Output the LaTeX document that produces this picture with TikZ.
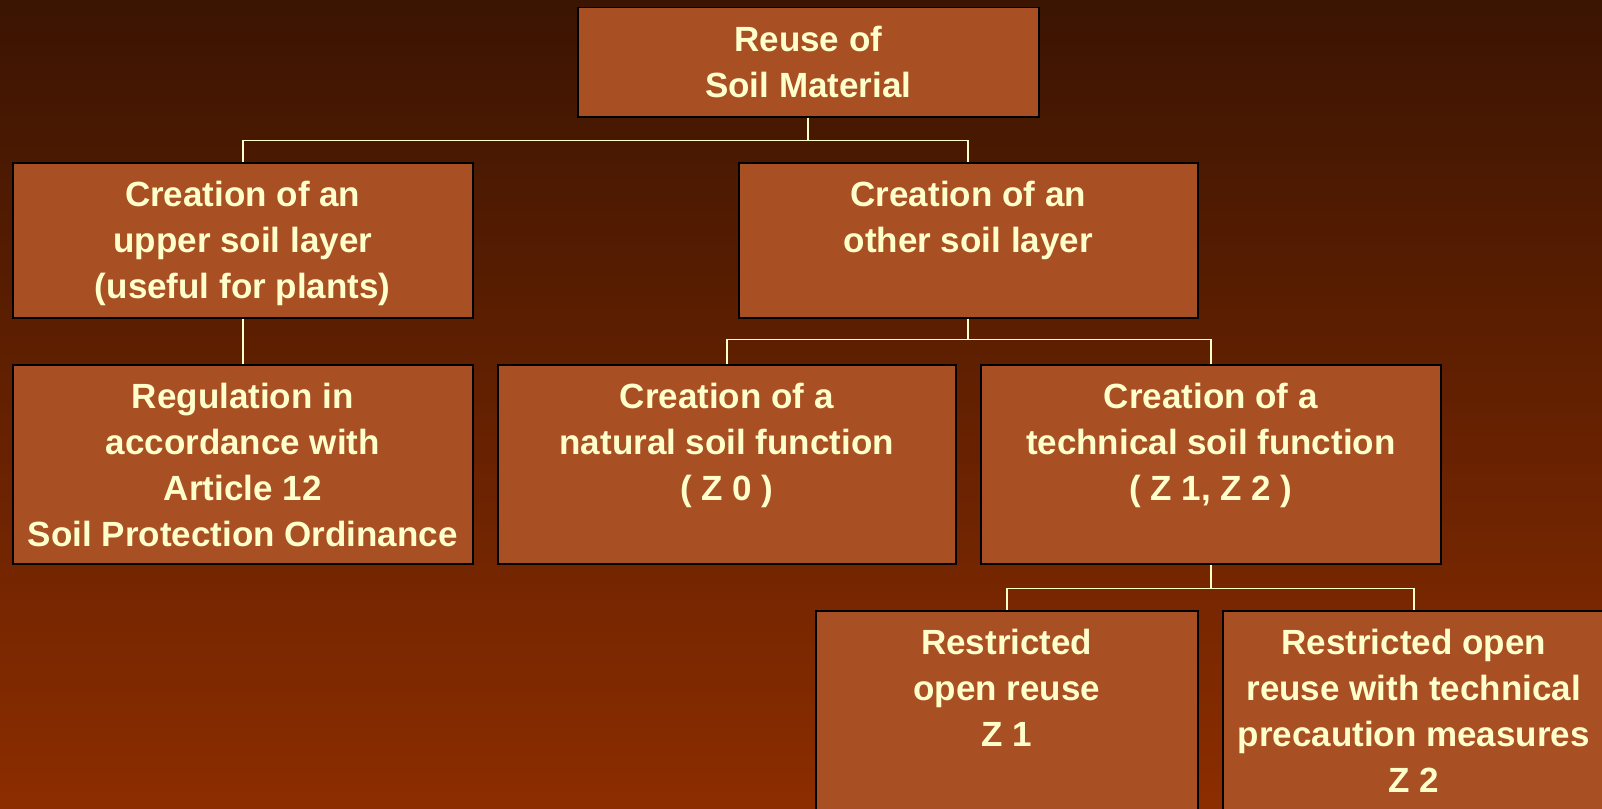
\documentclass[tikz,border=0pt]{standalone}
\usepackage{fontspec}
\setmainfont{Liberation Sans}
\definecolor{soilbgtop}{HTML}{3B1402}
\definecolor{soilbgbottom}{HTML}{8C2D00}
\definecolor{soilfill}{HTML}{A94F24}
\definecolor{soiltext}{HTML}{FFFFCC}
% contents of one box: width, height, lines; the lines hang from the top edge of the box
\def\boxlines#1#2#3{\parbox[c][#2][t]{#1}{\centering\vspace*{18pt}#3}}

\begin{document}
\begin{tikzpicture}[x=1pt, y=-1pt,
    soilbox/.style={draw=black, line width=1.5pt, fill=soilfill, text=soiltext, inner sep=0pt,
      anchor=north west, font=\bfseries\fontsize{35}{46}\selectfont},
    branch/.style={draw=soiltext, line width=1.6pt}]
			% The slide itself, dark brown at the top turning to a red brown at the bottom
			\useasboundingbox (0,0) rectangle (1602,808);
			\clip (0,0) rectangle (1602,808);
			\shade[top color=soilbgtop, bottom color=soilbgbottom] (0,0) rectangle (1602,808);

			% The root of the tree
			\node[soilbox] (reuse) at (577,7) {\boxlines{461pt}{109pt}{Reuse of\\Soil Material}};

			% The two kinds of soil layer
			\node[soilbox] (upper) at (12,162) {\boxlines{460pt}{155pt}{Creation of an\\upper soil layer\\(useful for plants)}};
			\node[soilbox] (other) at (738,162) {\boxlines{459pt}{155pt}{Creation of an\\other soil layer}};

			% Third row: the regulation under the upper layer, the two soil functions under the other layer
			\node[soilbox] (regulation) at (12,364) {\boxlines{460pt}{199pt}{Regulation in\\accordance with\\Article 12\\Soil Protection Ordinance}};
			\node[soilbox] (natural) at (497,364) {\boxlines{458pt}{199pt}{Creation of a\\natural soil function\\( Z 0 )}};
			\node[soilbox] (technical) at (980,364) {\boxlines{460pt}{199pt}{Creation of a\\technical soil function\\( Z 1, Z 2 )}};

			% Last row, running off the bottom and right edge of the slide
			\node[soilbox] (restricted) at (815,610) {\boxlines{382pt}{230pt}{Restricted\\open reuse\\Z 1}};
			\node[soilbox] (precaution) at (1222,610) {\boxlines{382pt}{230pt}{Restricted open\\reuse with technical\\precaution measures\\Z 2}};

			% The branches, always down from the middle of a box, across, and down into the children
			\draw[branch] (reuse.south) -- ++(0,23) -| (upper.north);
			\draw[branch] (reuse.south) -- ++(0,23) -| (other.north);
			\draw[branch] (upper.south) -- (regulation.north);
			\draw[branch] (other.south) -- ++(0,21) -| (natural.north);
			\draw[branch] (other.south) -- ++(0,21) -| (technical.north);
			\draw[branch] (technical.south) -- ++(0,24) -| (restricted.north);
			\draw[branch] (technical.south) -- ++(0,24) -| (precaution.north);
	\end{tikzpicture}
\end{document}
